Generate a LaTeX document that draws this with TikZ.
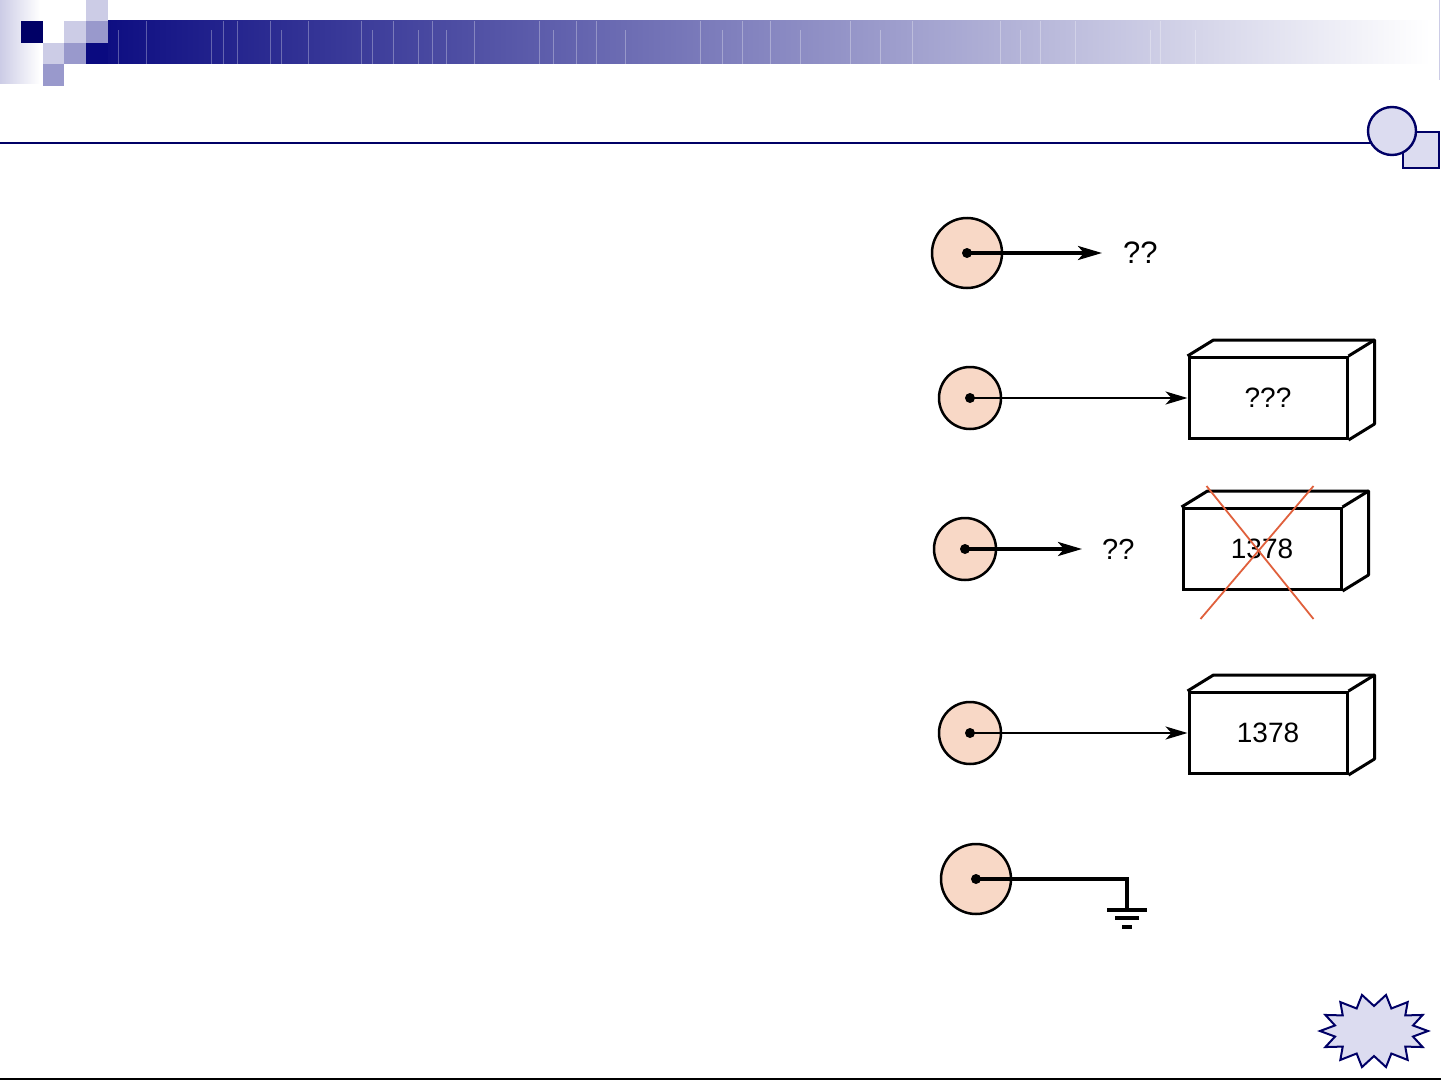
\documentclass[tikz,border=0pt]{standalone}
\usepackage{fontspec}
\setmainfont{Liberation Sans}
\usetikzlibrary{positioning}
\usetikzlibrary{calc}
\usetikzlibrary{math}
\usetikzlibrary{arrows.meta}

\definecolor{navy}{HTML}{0A0A80}
\definecolor{deco}{HTML}{000066}
\definecolor{lilac}{HTML}{CCCCE6}
\definecolor{lavender}{HTML}{9999CC}
\definecolor{paleband}{HTML}{DCDCF0}
\definecolor{midband}{HTML}{7070B4}
\definecolor{peach}{HTML}{F8D8C6}
\definecolor{crossred}{HTML}{E0603C}

\tikzset{
  src/.style={circle, draw=black, line width=2.5pt, fill=peach, minimum size=#1, inner sep=0pt},
  crate/.style={draw, fill=white, line width=3pt, minimum width=158pt, minimum height=81pt,
    inner sep=0pt, font=\fontsize{28}{32}\selectfont},
  crate edge/.style={line width=3pt, line join=round},
  ptr/.style={line width=2.5pt, -{Stealth[length=22pt,width=13pt,inset=6pt]}},
  thickptr/.style={line width=3.5pt, -{Stealth[length=24pt,width=14pt,inset=6pt]}},
  qmark/.style={inner sep=0pt, font=\fontsize{#1}{34}\selectfont},
  qmark/.default=29,
}

\begin{document}
\begin{tikzpicture}[x=1pt,y=-1pt]

  \tikzmath{
    \dx   = 26; % depth of the boxes, to the right
    \dy   = 16; % depth of the boxes, upwards
    \dotr = 5;  % radius of the dot in each circle
  }

  \useasboundingbox (0,0) rectangle (1441,1081);

  % Header band with its squares
  \shade[left color=lilac, right color=white] (0,0) rectangle (40,84);
  \shade[left color=navy, middle color=midband, right color=white] (86,21) rectangle (1430,64);
  \foreach \x/\t in {118/30,146/21,211/30,223/21,237/21,270/21,281/30,308/21,361/21,372/30,
                     393/21,418/30,432/21,446/30,474/21,539/21,553/30,576/21,596/21,625/30,
                     700/21,722/30,742/21,770/21,800/30,850/21,880/30,912/21,1000/21,1020/30,
                     1040/21,1075/21,1150/30,1160/21,1195/30}
    \draw[white, opacity=0.3, line width=0.8pt] (\x,\t) -- (\x,64);
  \draw[lilac, line width=1pt] (1439,0) -- (1439,80);
  \fill[deco]     (21,21) rectangle (43,43);
  \fill[lilac]    (64,21) rectangle (86,43);
  \fill[lavender] (86,21) rectangle (108,43);
  \fill[lilac]    (86,0)  rectangle (108,21);
  \fill[lilac]    (43,43) rectangle (64,64);
  \fill[lavender] (64,43) rectangle (86,64);
  \fill[navy]     (86,43) rectangle (108,64);
  \fill[lavender] (43,64) rectangle (64,86);

  % Title rule with circle and square
  \draw[deco, line width=2.6pt] (0,143) -- (1375,143);
  \draw[deco, line width=2.4pt, fill=paleband] (1403,132) rectangle (1439,168);
  \draw[deco, line width=2.4pt, fill=paleband] (1392,131) circle (24);

  % Footer line and starburst
  \draw[black, line width=2.5pt] (0,1079) -- (1441,1079);
  \draw[deco, line width=2pt, fill=paleband, line join=miter]
    plot[samples at={0,...,27}]
      ({1374+ifthenelse(mod(\x,2)==0,54,40)*cos(\x*360/28)},
       {1031+ifthenelse(mod(\x,2)==0,37,25)*sin(\x*360/28)}) -- cycle;

  % Row 1: pointer to nowhere
  \node[src=70pt] (src1) at (967,253) {};
  \coordinate (tip1) at (1102,253);
  \node[qmark=31, right=21pt of tip1] (q1) {??};
  \draw[thickptr] (src1.center) -- (tip1);

  % Row 2: pointer to a fresh box
  \node[src=62pt] (src2) at (970,398) {};
  \node[crate] (box2) at (1268,398) {???};
  \draw[ptr] (src2.center) -- (box2.west);

  % Row 3: box is gone
  \node[src=62pt] (src3) at (965,549) {};
  \coordinate (tip3) at (1082,549);
  \node[qmark, right=20pt of tip3] (q3) {??};
  \node[crate] (box3) at (1262,549) {1378};
  \draw[thickptr] (src3.center) -- (tip3);

  % Row 4: pointer to the box with its value
  \node[src=62pt] (src4) at (970,733) {};
  \node[crate] (box4) at (1268,733) {1378};
  \draw[ptr] (src4.center) -- (box4.west);

  % Depth of the boxes
  \foreach \b in {box2,box3,box4} {
    \draw[crate edge] (\b.north west) -- ++(\dx,-\dy) -| ($(\b.south east)+(\dx,-\dy)$) -- (\b.south east);
    \draw[crate edge] (\b.north east) -- ++(\dx,-\dy);
  }

  % Cross over the lost box
  \draw[crossred, line width=1.8pt] ($(box3.north west)+(25,-21)$) -- ($(box3.south east)+(-29,28)$);
  \draw[crossred, line width=1.8pt] ($(box3.north east)+(-29,-21)$) -- ($(box3.south west)+(19,28)$);

  % Row 5: grounded pointer
  \node[src=70pt] (src5) at (976,879) {};
  \coordinate (gnd) at (1127,910);
  \draw[line width=3.5pt] (src5.center) -| (gnd);
  \foreach \dd/\w in {0/20,8/12,17/5}
    \draw[line width=3.5pt] ($(gnd)+(-\w,\dd)$) -- ($(gnd)+(\w,\dd)$);

  % Dots in the circles
  \foreach \s in {src1,src2,src3,src4,src5}
    \fill (\s.center) circle (\dotr);

\end{tikzpicture}
\end{document}
